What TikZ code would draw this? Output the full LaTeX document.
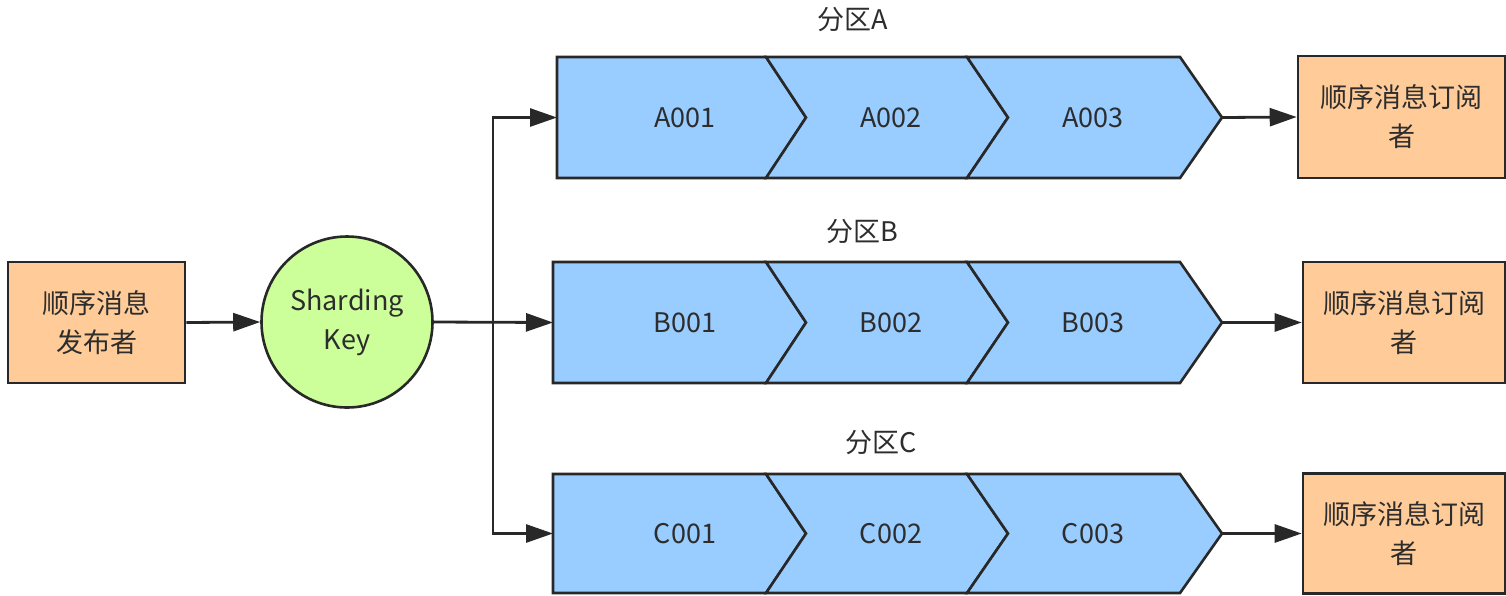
\documentclass[tikz,border=0pt]{standalone}
\usepackage{fontspec}
\setmainfont{Noto Sans CJK SC}
\usetikzlibrary{arrows.meta}
\definecolor{bluefill}{RGB}{153,204,255}
\definecolor{orangefill}{RGB}{255,204,153}
\definecolor{greenfill}{RGB}{204,255,153}
\definecolor{edgecol}{RGB}{40,40,40}
\definecolor{txtcol}{RGB}{45,45,45}
\newcommand\chevrow[4]{% #1 letter, #2 left x, #3 top y, #4 bottom y
  \pgfmathsetmacro\rowmid{(#3+#4)/2}
  \draw[segshape] (#2,#3) -- (766,#3) -- (806,\rowmid) -- (766,#4) -- (#2,#4) -- cycle;
  \draw[segshape] (766,#3) -- (967,#3) -- (1008,\rowmid) -- (967,#4) -- (766,#4) -- (806,\rowmid) -- cycle;
  \draw[segshape] (967,#3) -- (1180,#3) -- (1222,\rowmid) -- (1180,#4) -- (967,#4) -- (1008,\rowmid) -- cycle;
  \node[lbl] (#1s1) at (685,\rowmid) {#1001};
  \node[lbl] (#1s2) at (891,\rowmid) {#1002};
  \node[lbl] (#1s3) at (1093,\rowmid) {#1003};
  \coordinate (#1in) at (#2,\rowmid);
  \coordinate (#1out) at (1222,\rowmid);
}
\begin{document}
\begin{tikzpicture}[x=1pt,y=-1pt,
  every node/.style={font=\fontsize{27pt}{39pt}\selectfont, text=txtcol},
  lbl/.style={inner sep=0pt},
  segshape/.style={draw=edgecol, fill=bluefill, line width=2.6pt, line join=miter},
  orangebox/.style={draw=edgecol, fill=orangefill, line width=2.6pt, rectangle, align=center, inner sep=0pt},
  keycircle/.style={draw=edgecol, fill=greenfill, line width=2.6pt, circle, minimum size=171pt, align=center, inner sep=0pt},
  conn/.style={draw=edgecol, line width=2.8pt},
  arr/.style={conn, -{Triangle[length=27pt,width=18pt]}}
]
\useasboundingbox (0,0) rectangle (1506,595);
\fill[white] (0,0) rectangle (1506,595);

\chevrow{A}{557}{57}{178}
\chevrow{B}{553}{262}{383}
\chevrow{C}{553}{474}{593}

\node[lbl] (labA) at (853,20) {分区A};
\node[lbl] (labB) at (862,232) {分区B};
\node[lbl] (labC) at (881,443) {分区C};

\node[orangebox, minimum width=177pt, minimum height=121pt] (pub) at (96.5,322.5) {顺序消息\\发布者};
\node[keycircle] (key) at (347,322) {Sharding\\Key};

\node[orangebox, minimum width=207pt, minimum height=122pt] (subA) at (1401.5,117) {顺序消息订阅\\者};
\node[orangebox, minimum width=202pt, minimum height=121pt] (subB) at (1404,322.5) {顺序消息订阅\\者};
\node[orangebox, minimum width=202pt, minimum height=120pt] (subC) at (1404,533.5) {顺序消息订阅\\者};

\coordinate (split) at (493,322);
\draw[arr] (pub.east) -- (key.west);
\draw[arr] (key.east) -- (Bin);
\draw[arr] (split) |- (Ain);
\draw[arr] (split) |- (Cin);
\draw[arr] (Aout) -- (subA.west);
\draw[arr] (Bout) -- (subB.west);
\draw[arr] (Cout) -- (subC.west);
\end{tikzpicture}
\end{document}
